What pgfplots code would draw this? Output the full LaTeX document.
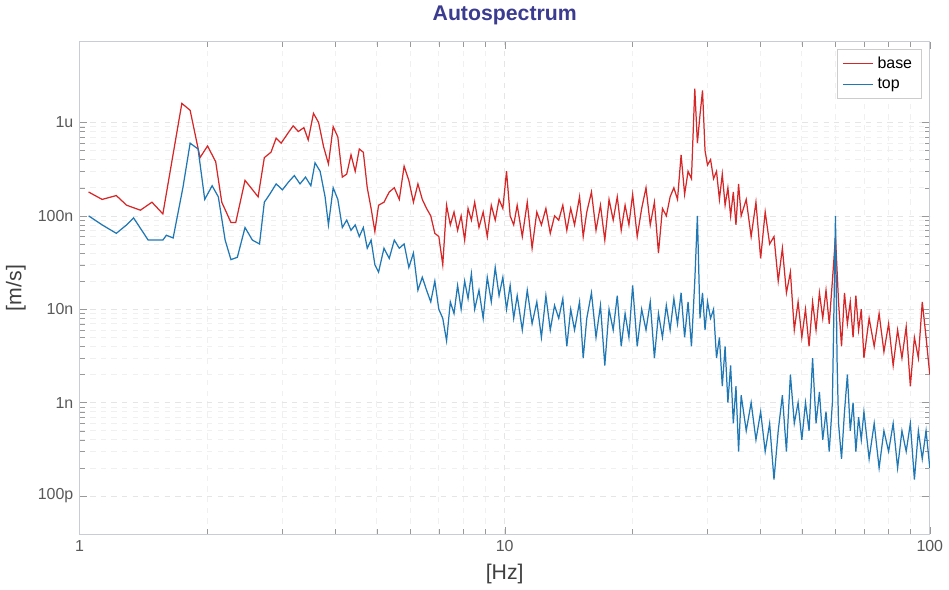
\documentclass[border=0pt]{standalone}
\usepackage{pgfplots}
\pgfplotsset{compat=1.18}
\usepackage{fontspec}
\setmainfont{Liberation Sans}
\definecolor{cred}{HTML}{D62728}
\definecolor{cblue}{HTML}{1F77B4}
\definecolor{ttl}{HTML}{3B3B8F}
\definecolor{axc}{HTML}{C8CCD8}
\begin{document}
\begin{tikzpicture}
\begin{axis}[
 scale only axis, width=480pt, height=278pt,
 xmode=log, ymode=log, xmin=1, xmax=100, ymin=3.9e-11, ymax=7.3e-6,
 xtick={1,10,100}, xticklabels={1,10,100},
 ytick={1e-10,1e-9,1e-8,1e-7,1e-6}, yticklabels={100p,1n,10n,100n,1u},
 tick label style={font=\small, text=black!65},
 grid=both, major grid style={dashed, black!10}, minor grid style={dashed, black!6},
 axis line style={axc}, tick style={black!40},
 title={\textbf{Autospectrum}}, title style={font=\large, text=ttl},
 xlabel={[Hz]}, ylabel={[m/s]}, label style={font=\large, text=black!75},
 legend style={at={(0.99,0.985)}, anchor=north east, font=\small, draw=black!20},
 legend cell align=left,
 every axis plot/.append style={line width=0.7pt},
]
\addplot[color=cred] table {
1.05 1.8e-7
1.13 1.5e-7
1.22 1.65e-7
1.29 1.3e-7
1.39 1.15e-7
1.48 1.4e-7
1.57 1.05e-7
1.74 1.6e-6
1.82 1.35e-6
1.92 4.2e-7
2.0 5.6e-7
2.09 3.8e-7
2.16 1.4e-7
2.27 8.5e-8
2.33 8.5e-8
2.45 2.4e-7
2.63 1.6e-7
2.72 4.2e-7
2.82 4.8e-7
2.9 6.8e-7
2.98 6.0e-7
3.08 7.5e-7
3.18 9.2e-7
3.27 8.0e-7
3.37 8.8e-7
3.45 6.5e-7
3.55 1.25e-6
3.65 1.0e-6
3.75 5.5e-7
3.85 3.6e-7
3.95 9.0e-7
4.05 7.0e-7
4.15 2.6e-7
4.25 2.8e-7
4.35 4.5e-7
4.45 3.0e-7
4.55 5.2e-7
4.65 4.8e-7
4.75 2.0e-7
4.85 1.2e-7
4.95 6.8e-8
5.05 1.3e-7
5.2 1.4e-7
5.35 1.8e-7
5.5 2.0e-7
5.65 1.5e-7
5.8 3.4e-7
5.95 2.4e-7
6.1 1.4e-7
6.25 2.2e-7
6.4 1.5e-7
6.55 1.2e-7
6.7 1.0e-7
6.85 6.5e-8
7.0 6.0e-8
7.15 3.0e-8
7.3 1.3e-7
7.45 8.0e-8
7.6 1.1e-7
7.75 7.0e-8
7.9 1.0e-7
8.05 5.5e-8
8.2 1.2e-7
8.35 9.0e-8
8.5 1.4e-7
8.7 7.5e-8
8.9 1.1e-7
9.1 6.0e-8
9.3 1.3e-7
9.5 9.0e-8
9.7 1.5e-7
9.9 1.2e-7
10.1 3.0e-7
10.3 1.0e-7
10.5 8.0e-8
10.7 1.3e-7
11.0 6.0e-8
11.3 1.4e-7
11.6 4.5e-8
11.9 1.1e-7
12.2 8.0e-8
12.5 1.2e-7
12.8 6.5e-8
13.1 1.0e-7
13.4 9.0e-8
13.7 1.3e-7
14.0 7.0e-8
14.3 1.2e-7
14.6 8.0e-8
15.0 1.6e-7
15.3 6.0e-8
15.6 1.1e-7
16.0 1.8e-7
16.4 7.0e-8
16.8 1.3e-7
17.2 5.5e-8
17.6 1.5e-7
18.0 9.0e-8
18.4 1.6e-7
18.8 7.0e-8
19.2 1.3e-7
19.6 8.0e-8
20.0 1.7e-7
20.5 6.0e-8
21.0 1.2e-7
21.5 2.0e-7
22.0 8.0e-8
22.5 1.4e-7
23.0 4.0e-8
23.5 1.2e-7
24.0 1.0e-7
24.5 1.6e-7
25.0 2.0e-7
25.5 1.5e-7
26.0 4.5e-7
26.5 1.7e-7
27.0 3.0e-7
27.5 2.5e-7
28.0 2.3e-6
28.4 6.0e-7
28.8 1.2e-6
29.2 2.2e-6
29.6 5.0e-7
30.0 3.5e-7
30.5 4.0e-7
31.0 2.5e-7
31.5 3.0e-7
32.0 1.5e-7
32.5 2.8e-7
33.0 1.3e-7
33.5 2.0e-7
34.0 1.0e-7
34.5 1.8e-7
35.0 8.0e-8
35.5 2.2e-7
36.0 1.0e-7
37.0 1.5e-7
38.0 6.0e-8
39.0 1.4e-7
40.0 3.5e-8
41.0 1.1e-7
42.0 5.0e-8
43.0 6.0e-8
44.0 2.0e-8
45.0 4.5e-8
46.0 1.5e-8
47.0 2.5e-8
48.0 6.0e-9
49.0 1.2e-8
50.0 5.0e-9
51.0 1.0e-8
52.0 4.0e-9
53.0 1.2e-8
54.0 6.0e-9
55.0 1.5e-8
56.0 8.0e-9
57.0 1.6e-8
58.0 7.0e-9
59.0 2.0e-8
60.0 6.0e-8
61.0 1.2e-8
62.0 4.0e-9
63.0 1.5e-8
64.0 7.0e-9
65.0 1.2e-8
66.0 5.0e-9
67.0 1.4e-8
68.0 6.0e-9
69.0 1.0e-8
70.0 3.0e-9
72.0 8.0e-9
74.0 4.0e-9
76.0 9.0e-9
78.0 3.5e-9
80.0 7.0e-9
82.0 2.5e-9
84.0 6.0e-9
86.0 3.0e-9
88.0 6.5e-9
90.0 1.5e-9
92.0 5.0e-9
94.0 3.0e-9
96.0 1.2e-8
98.0 5.0e-9
100 2.0e-9
};
\addlegendentry{base}
\addplot[color=cblue] table {
1.05 1.0e-7
1.13 8.0e-8
1.22 6.5e-8
1.29 8.0e-8
1.34 9.5e-8
1.45 5.5e-8
1.57 5.5e-8
1.6 6.2e-8
1.66 5.8e-8
1.75 2.0e-7
1.82 6.0e-7
1.9 5.2e-7
1.97 1.5e-7
2.05 2.1e-7
2.12 1.6e-7
2.2 5.5e-8
2.27 3.4e-8
2.35 3.6e-8
2.45 7.5e-8
2.55 5.5e-8
2.65 5.0e-8
2.72 1.4e-7
2.8 1.7e-7
2.9 2.2e-7
3.0 1.9e-7
3.1 2.3e-7
3.2 2.7e-7
3.3 2.2e-7
3.4 2.6e-7
3.5 2.1e-7
3.58 3.7e-7
3.68 3.0e-7
3.78 1.6e-7
3.85 8.0e-8
3.95 2.0e-7
4.05 1.5e-7
4.15 7.5e-8
4.25 9.0e-8
4.35 7.0e-8
4.45 8.0e-8
4.55 6.0e-8
4.65 7.5e-8
4.75 4.5e-8
4.85 5.5e-8
4.95 3.0e-8
5.05 2.5e-8
5.2 4.5e-8
5.35 3.5e-8
5.5 5.5e-8
5.65 4.5e-8
5.8 5.0e-8
5.95 2.8e-8
6.1 4.0e-8
6.25 1.6e-8
6.4 2.2e-8
6.55 1.6e-8
6.7 1.2e-8
6.85 2.0e-8
7.0 1.0e-8
7.15 8.0e-9
7.3 4.6e-9
7.45 1.2e-8
7.6 9.0e-9
7.75 1.8e-8
7.9 1.0e-8
8.05 2.0e-8
8.2 1.3e-8
8.35 2.4e-8
8.5 1.0e-8
8.7 1.6e-8
8.9 8.0e-9
9.1 2.2e-8
9.3 1.2e-8
9.5 2.8e-8
9.7 1.4e-8
9.9 2.2e-8
10.1 1.0e-8
10.3 1.8e-8
10.5 8e-9
10.7 1.4e-8
11.0 6e-9
11.3 1.6e-8
11.6 7e-9
11.9 1.2e-8
12.2 5e-9
12.5 1.4e-8
12.8 6e-9
13.1 1.1e-8
13.4 8e-9
13.7 1.3e-8
14.0 4e-9
14.3 1.0e-8
14.6 6e-9
15 1.2e-8
15.3 3e-9
15.6 8e-9
16 1.5e-8
16.4 5e-9
16.8 1.1e-8
17.2 2.5e-9
17.6 1.0e-8
18 6e-9
18.4 1.4e-8
18.8 4e-9
19.2 9e-9
19.6 5e-9
20 1.8e-8
20.5 4e-9
21 1.0e-8
21.5 6e-9
22 1.2e-8
22.5 3e-9
23 9e-9
23.5 5e-9
24 1.1e-8
24.5 6e-9
25 1.3e-8
25.5 7e-9
26 1.5e-8
26.5 5e-9
27 1.2e-8
27.5 4e-9
28 2.0e-8
28.4 1.0e-7
28.8 8e-9
29.2 1.5e-8
29.6 6e-9
30 1.2e-8
30.5 8e-9
31 1.0e-8
31.5 3e-9
32 5e-9
32.5 1.5e-9
33 4e-9
33.5 1.0e-9
34 2.5e-9
34.5 6e-10
35 1.5e-9
35.5 3e-10
36 1.2e-9
37 5e-10
38 1.0e-9
39 4e-10
40 8e-10
41 3e-10
42 6e-10
43 1.5e-10
44 5e-10
45 1.2e-9
46 3e-10
47 2e-9
48 6e-10
49 1.0e-9
50 4e-10
51 1.0e-9
52 5e-10
53 3e-9
54 6e-10
55 1.3e-9
56 4e-10
57 8e-10
58 3e-10
59 1.0e-9
60 1.0e-7
60.5 3e-9
61 6e-10
62 2.5e-10
63 8e-10
64 2e-9
65 5e-10
66 1.0e-9
67 3e-10
68 7e-10
69 4e-10
70 8e-10
72 2.5e-10
74 6e-10
76 2e-10
78 5e-10
80 3e-10
82 6e-10
84 2e-10
86 5e-10
88 3e-10
90 6e-10
92 1.5e-10
94 5e-10
96 2.5e-10
98 5e-10
100 2e-10
};
\addlegendentry{top}
\end{axis}
\end{tikzpicture}
\end{document}
